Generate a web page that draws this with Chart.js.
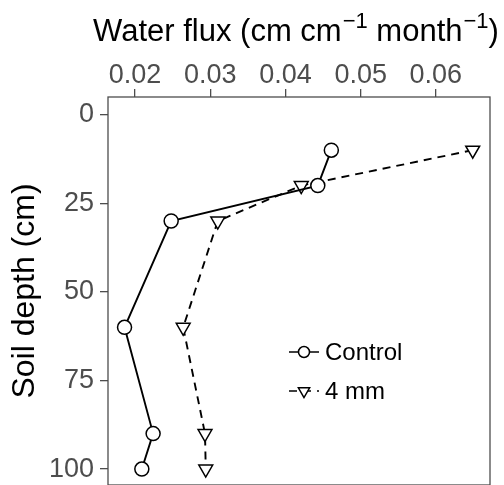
<!DOCTYPE html>
<html>
<head>
<meta charset="utf-8">
<script src="https://cdn.jsdelivr.net/npm/chart.js@4.4.1/dist/chart.umd.min.js"></script>
<style>
  html, body { margin: 0; padding: 0; background: #fff; }
  canvas { display: block; }
</style>
</head>
<body>
<canvas id="fluxChart" width="504" height="485"></canvas>
<script>
// soil depth (cm) of each sampling point
const depths = [10, 20, 30, 60, 90, 100];
// water flux, cm cm-1 month-1
const controlFlux = [0.0461, 0.0443, 0.0248, 0.0186, 0.0224, 0.0209];
const mm4Flux = [0.0649, 0.0421, 0.0310, 0.0264, 0.0293, 0.0294];
const seriesNames = ['Control', '4 mm'];
const depthTicks = [0, 25, 50, 75, 100];
const fluxTicks = [0.02, 0.03, 0.04, 0.05, 0.06];

// x title pieces: [text, superscript?]
const fluxTitle = [['Water flux (cm cm', false], ['\u22121', true], [' month', false], ['\u22121', true], [')', false]];

const toPoints = (xs) => xs.map((v, i) => ({ x: v, y: depths[i] }));

const axisGray = '#4d4d4d';
const fontFamily = '"Liberation Sans", Arial, Helvetica, sans-serif';

// box around the panel, like ggplot's theme_bw border
const panelBorder = {
    id: 'panelBorder',
    afterDatasetsDraw(chart) {
        const { ctx, chartArea: a } = chart;
        ctx.save();
        ctx.strokeStyle = axisGray;
        ctx.lineWidth = 1.3;
        ctx.strokeRect(a.left, a.top, a.right - a.left, a.bottom - a.top);
        ctx.restore();
    }
};

// top axis title with real superscripts
const fluxTitlePlugin = {
    id: 'fluxTitle',
    afterDraw(chart) {
        const { ctx, chartArea: a } = chart;
        const mainFont = '31px ' + fontFamily;
        const supFont = '22px ' + fontFamily;
        ctx.save();
        ctx.fillStyle = '#000';
        ctx.textBaseline = 'alphabetic';
        ctx.textAlign = 'left';
        let total = 0;
        fluxTitle.forEach(([t, sup]) => {
            ctx.font = sup ? supFont : mainFont;
            total += ctx.measureText(t).width + (sup ? 1 : 0);
        });
        let x = (a.left + a.right) / 2 - total / 2 - 3;
        const base = 41;
        fluxTitle.forEach(([t, sup]) => {
            ctx.font = sup ? supFont : mainFont;
            ctx.fillText(t, x + (sup ? 1 : 0), sup ? base - 13 : base);
            x += ctx.measureText(t).width + (sup ? 1 : 0);
        });
        ctx.restore();
    }
};

// legend drawn inside the panel with line + marker keys
const insideLegend = {
    id: 'insideLegend',
    afterDraw(chart) {
        const { ctx, chartArea: a } = chart;
        const x0 = a.left + 181;
        const rows = [a.top + 255, a.top + 294];
        ctx.save();
        chart.data.datasets.forEach((ds, i) => {
            const y = rows[i];
            ctx.strokeStyle = '#000';
            ctx.lineWidth = 1.5;
            ctx.setLineDash(ds.borderDash || []);
            ctx.beginPath();
            ctx.moveTo(x0, y);
            ctx.lineTo(x0 + 30, y);
            ctx.stroke();
            ctx.setLineDash([]);
            ctx.fillStyle = '#fff';
            ctx.strokeStyle = '#000';
            Chart.helpers.drawPoint(ctx, {
                pointStyle: ds.pointStyle,
                rotation: ds.pointRotation || 0,
                radius: i === 0 ? 5.5 : 6.5,
                borderWidth: 1.5
            }, x0 + 15, y);
            ctx.fillStyle = '#000';
            ctx.font = '24px ' + fontFamily;
            ctx.textBaseline = 'middle';
            ctx.textAlign = 'left';
            ctx.fillText(ds.label, x0 + 36, y + 1);
        });
        ctx.restore();
    }
};

const keepTicks = (list) => (scale) => {
    scale.ticks = list.map(v => ({ value: v }));
};

// the panel is sized by hand, so drop the room Chart.js keeps for edge labels
const noEdgePadding = (scale) => {
    scale.paddingLeft = 0;
    scale.paddingRight = 0;
    scale.paddingTop = 0;
    scale.paddingBottom = 0;
    if (scale._margins) {
        scale._margins = { left: 0, top: 0, right: 0, bottom: 0 };
    }
    scale.getPadding = () => ({ left: 0, top: 0, right: 0, bottom: 0 });
};

const fluxChart = new Chart(document.getElementById('fluxChart').getContext('2d'), {
    type: 'scatter',
    data: {
        datasets: [{
            label: seriesNames[0],
            data: toPoints(controlFlux),
            showLine: true,
            borderColor: '#000',
            borderWidth: 1.9,
            pointStyle: 'circle',
            pointRadius: 7,
            pointBackgroundColor: '#fff',
            pointBorderColor: '#000',
            pointBorderWidth: 1.5
        }, {
            label: seriesNames[1],
            data: toPoints(mm4Flux),
            showLine: true,
            borderColor: '#000',
            borderWidth: 1.9,
            borderDash: [8, 6],
            pointStyle: 'triangle',
            pointRotation: 180,
            pointRadius: 8,
            pointBackgroundColor: '#fff',
            pointBorderColor: '#000',
            pointBorderWidth: 1.5
        }]
    },
    options: {
        responsive: false,
        animation: false,
        devicePixelRatio: 1,
        layout: { autoPadding: false, padding: { left: 0, top: 0, right: 14, bottom: 0 } },
        plugins: {
            legend: { display: false },
            tooltip: { enabled: false }
        },
        scales: {
            x: {
                type: 'linear',
                position: 'top',
                min: 0.0164,
                max: 0.0672,
                afterFit: (scale) => {
                    scale.height = 97;
                    noEdgePadding(scale);
                },
                afterBuildTicks: keepTicks(fluxTicks),
                border: { display: false },
                grid: { drawOnChartArea: false, drawTicks: true, tickLength: 8, color: axisGray, lineWidth: 1.3 },
                ticks: {
                    color: axisGray,
                    padding: 0,
                    maxRotation: 0,
                    font: { family: fontFamily, size: 27, lineHeight: 1 },
                    callback: (v) => v.toFixed(2)
                },
                title: { display: false }
            },
            y: {
                type: 'linear',
                reverse: true,
                min: -5,
                max: 104.5,
                afterFit: (scale) => {
                    scale.width = 108;
                    noEdgePadding(scale);
                },
                afterBuildTicks: keepTicks(depthTicks),
                border: { display: false },
                grid: { drawOnChartArea: false, drawTicks: true, tickLength: 8, color: axisGray, lineWidth: 1.3 },
                ticks: {
                    color: axisGray,
                    padding: 6,
                    font: { family: fontFamily, size: 27 }
                },
                title: {
                    display: true,
                    text: 'Soil depth (cm)',
                    color: '#000',
                    padding: { top: 6, bottom: 0 },
                    font: { family: fontFamily, size: 32 }
                }
            }
        }
    },
    plugins: [panelBorder, fluxTitlePlugin, insideLegend]
});
</script>
</body>
</html>
